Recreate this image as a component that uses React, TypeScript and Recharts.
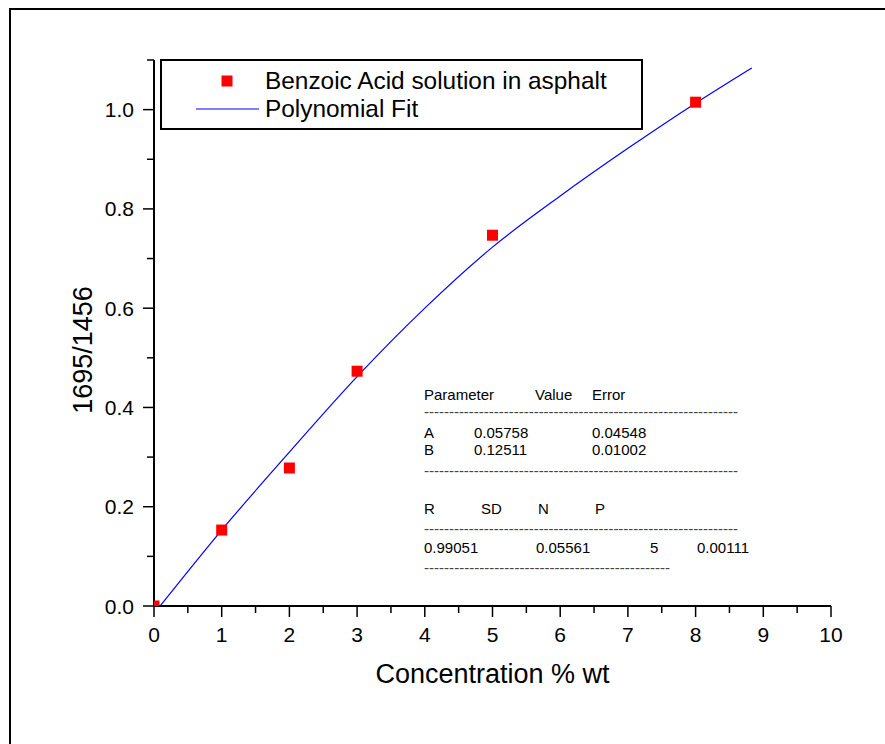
import React from "react";
import {
  ComposedChart,
  Line,
  Scatter,
  XAxis,
  YAxis,
} from "recharts";

// measured points (concentration % wt vs 1695/1456 band ratio)
const concentration = [0, 1, 2, 3, 5, 8];
const ratio = [0.0, 0.153, 0.278, 0.473, 0.747, 1.015];

// polynomial fit curve
const fitX = [0.09, 1, 2, 3, 4, 5, 6, 7, 8, 8.83];
const fitY = [0, 0.153, 0.31, 0.462, 0.6, 0.723, 0.826, 0.922, 1.013, 1.084];

const xTicks = [0, 0.5, 1, 1.5, 2, 2.5, 3, 3.5, 4, 4.5, 5, 5.5, 6, 6.5, 7, 7.5, 8, 8.5, 9, 9.5, 10];
const yTicks = [0, 0.1, 0.2, 0.3, 0.4, 0.5, 0.6, 0.7, 0.8, 0.9, 1.0, 1.1];

const seriesNames = ["Benzoic Acid solution in asphalt", "Polynomial Fit"];

// fit report text
const paramNames = ["A", "B"];
const paramValues = ["0.05758", "0.12511"];
const paramErrors = ["0.04548", "0.01002"];
const statHeaders = ["R", "SD", "N", "P"];
const statValues = ["0.99051", "0.05561", "5", "0.00111"];

const points = concentration.map((x, i) => ({ x, y: ratio[i] }));
const fit = fitX.map((x, i) => ({ x, y: fitY[i] }));

const FONT = "Arial, 'Liberation Sans', sans-serif";

const XTick = (props: any) => {
  const { x, y, payload } = props;
  const v = payload.value;
  const major = Number.isInteger(v);
  return (
    <g>
      <line x1={x} x2={x} y1={y} y2={y + (major ? 11 : 7)} stroke="#000" strokeWidth={1.5} />
      {major && (
        <text x={x} y={y + 36} textAnchor="middle" fontSize={21} fontFamily={FONT} fill="#000">
          {v}
        </text>
      )}
    </g>
  );
};

const YTick = (props: any) => {
  const { x, y, payload } = props;
  const v = payload.value;
  const major = Math.round(v * 10) % 2 === 0;
  return (
    <g>
      <line x1={x - (major ? 11 : 7)} x2={x} y1={y} y2={y} stroke="#000" strokeWidth={1.5} />
      {major && (
        <text x={x - 20} y={y} dy="0.36em" textAnchor="end" fontSize={21} fontFamily={FONT} fill="#000">
          {v.toFixed(1)}
        </text>
      )}
    </g>
  );
};

const Square = (props: any) => {
  const { cx, cy } = props;
  return <rect x={cx - 5.5} y={cy - 5.5} width={11} height={11} fill="#ff0000" />;
};

const XLabel = (props: any) => {
  const { viewBox } = props;
  return (
    <text
      x={viewBox.x + viewBox.width / 2}
      y={viewBox.y + 77}
      textAnchor="middle"
      fontSize={27}
      fontFamily={FONT}
      fill="#000"
    >
      Concentration % wt
    </text>
  );
};

const YLabel = (props: any) => {
  const { viewBox } = props;
  const cx = viewBox.x + 92;
  const cy = viewBox.y + viewBox.height / 2 + 17;
  return (
    <text
      x={cx}
      y={cy}
      transform={`rotate(-90, ${cx}, ${cy})`}
      textAnchor="middle"
      fontSize={27}
      fontFamily={FONT}
      fill="#000"
    >
      1695/1456
    </text>
  );
};

const App: React.FC = () => {
  const t = { fontSize: 15, fontFamily: FONT, fill: "#000" } as const;
  const dash1 = "-".repeat(63);
  const dash2 = "-".repeat(49);
  return (
    <div
      style={{
        position: "absolute",
        left: 0,
        top: 0,
        width: 885,
        height: 744,
        overflow: "hidden",
        background: "#fff",
      }}
    >
      <div
        style={{
          position: "absolute",
          left: 9,
          top: 8,
          width: 1000,
          height: 1000,
          border: "2.5px solid #000",
          boxSizing: "border-box",
        }}
      />
      <div style={{ position: "absolute", left: 0, top: 0 }}>
        <ComposedChart width={885} height={744} margin={{ top: 60, right: 54, bottom: 0, left: 0 }}>
          <XAxis
            dataKey="x"
            type="number"
            domain={[0, 10]}
            ticks={xTicks}
            interval={0}
            allowDataOverflow
            height={138}
            tickSize={0}
            tickMargin={0}
            tickLine={false}
            tick={<XTick />}
            axisLine={{ stroke: "#000", strokeWidth: 2 }}
            label={<XLabel />}
          />
          <YAxis
            dataKey="y"
            type="number"
            domain={[0, 1.1]}
            ticks={yTicks}
            interval={0}
            allowDataOverflow
            width={154}
            tickSize={0}
            tickMargin={0}
            tickLine={false}
            tick={<YTick />}
            axisLine={{ stroke: "#000", strokeWidth: 2 }}
            label={<YLabel />}
          />
          <Scatter
            name={seriesNames[0]}
            data={points}
            dataKey="y"
            shape={<Square />}
            isAnimationActive={false}
          />
          <Line
            name={seriesNames[1]}
            data={fit}
            dataKey="y"
            type="monotone"
            stroke="#0000ff"
            strokeWidth={1.2}
            dot={false}
            activeDot={false}
            isAnimationActive={false}
          />
        </ComposedChart>
      </div>
      <svg
        width={885}
        height={744}
        style={{ position: "absolute", left: 0, top: 0, pointerEvents: "none" }}
      >
        {/* legend */}
        <rect x={161} y={60} width={481} height={69} fill="#fff" stroke="#000" strokeWidth={2} />
        <rect x={221.5} y={75.5} width={11} height={11} fill="#ff0000" />
        <text x={265} y={89} fontSize={24.4} fontFamily={FONT} fill="#000">
          {seriesNames[0]}
        </text>
        <line x1={196} x2={259} y1={109} y2={109} stroke="#0000ff" strokeWidth={1.2} />
        <text x={265} y={117} fontSize={24.4} fontFamily={FONT} fill="#000">
          {seriesNames[1]}
        </text>

        {/* fit report */}
        <text x={424} y={400} {...t}>Parameter</text>
        <text x={535} y={400} {...t}>Value</text>
        <text x={592} y={400} {...t}>Error</text>
        <text x={424} y={417} {...t} fill="#444" textLength={314}>{dash1}</text>
        {paramNames.map((p, i) => (
          <g key={p}>
            <text x={424} y={438 + i * 17} {...t}>{p}</text>
            <text x={474} y={438 + i * 17} {...t}>{paramValues[i]}</text>
            <text x={592} y={438 + i * 17} {...t}>{paramErrors[i]}</text>
          </g>
        ))}
        <text x={424} y={476} {...t} fill="#444" textLength={314}>{dash1}</text>
        {statHeaders.map((h, i) => (
          <text key={h} x={[424, 481, 538, 595][i]} y={514} {...t}>{h}</text>
        ))}
        <text x={424} y={534} {...t} fill="#444" textLength={314}>{dash1}</text>
        {statValues.map((v, i) => (
          <text key={i} x={[424, 536, 650, 697][i]} y={553} {...t}>{v}</text>
        ))}
        <text x={424} y={573} {...t} fill="#444" textLength={246}>{dash2}</text>
      </svg>
    </div>
  );
};

export default App;
